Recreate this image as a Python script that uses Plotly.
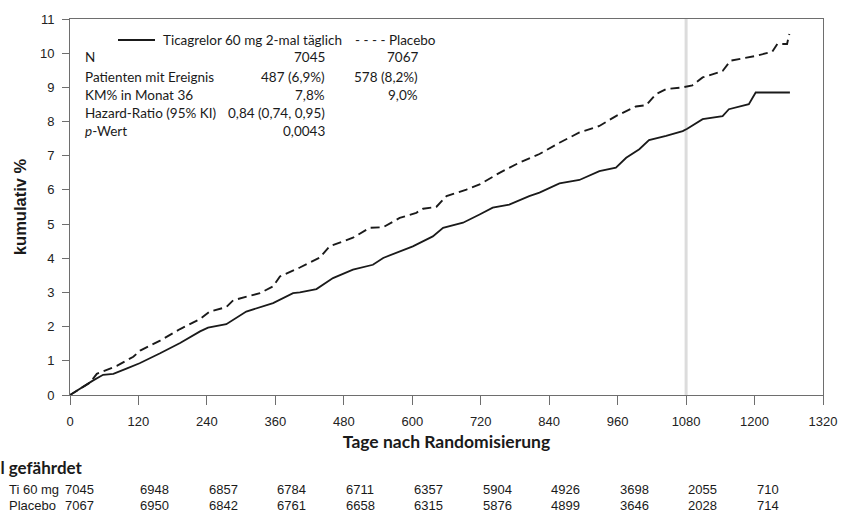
import plotly.graph_objects as go

# ---- data ----
days_ti = [0, 20, 40, 58, 76, 100, 122, 158, 193, 228, 242, 274, 309, 356, 391, 403, 432, 461, 496,
           531, 549, 601, 636, 654, 689, 718, 741, 770, 805, 823, 852, 858, 893, 928, 957, 975, 998,
           1015, 1045, 1074, 1082, 1109, 1144, 1155, 1190, 1202, 1262]
cum_ti = [0, 0.22, 0.42, 0.59, 0.62, 0.78, 0.93, 1.22, 1.52, 1.86, 1.97, 2.07, 2.44, 2.69, 2.98, 3.0,
          3.10, 3.42, 3.67, 3.81, 4.01, 4.35, 4.64, 4.89, 5.04, 5.28, 5.48, 5.57, 5.82, 5.92, 6.13,
          6.19, 6.29, 6.55, 6.65, 6.94, 7.19, 7.46, 7.58, 7.72, 7.79, 8.07, 8.16, 8.36, 8.51, 8.85, 8.85]

days_pl = [0, 20, 35, 47, 82, 111, 123, 158, 193, 228, 245, 274, 286, 333, 356, 368, 403, 438, 455,
           496, 525, 549, 578, 607, 619, 642, 660, 695, 718, 753, 788, 823, 852, 858, 893, 928, 957,
           992, 1010, 1027, 1045, 1074, 1091, 1109, 1144, 1158, 1202, 1231, 1240, 1257, 1261]
cum_pl = [0, 0.22, 0.36, 0.62, 0.85, 1.12, 1.30, 1.59, 1.93, 2.22, 2.44, 2.57, 2.77, 2.98, 3.18,
          3.47, 3.73, 4.02, 4.35, 4.60, 4.89, 4.91, 5.18, 5.33, 5.45, 5.50, 5.82, 6.01, 6.16, 6.50,
          6.80, 7.05, 7.33, 7.38, 7.68, 7.87, 8.16, 8.44, 8.48, 8.80, 8.95, 9.00, 9.06, 9.29, 9.48,
          9.78, 9.92, 10.04, 10.27, 10.27, 10.56]

x_ticks = [0, 120, 240, 360, 480, 600, 720, 840, 960, 1080, 1200, 1320]
y_ticks = list(range(0, 12))
risk_days = [0, 120, 240, 360, 480, 600, 720, 840, 960, 1080, 1200]
risk_ti = [7045, 6948, 6857, 6784, 6711, 6357, 5904, 4926, 3698, 2055, 710]
risk_pl = [7067, 6950, 6842, 6761, 6658, 6315, 5876, 4899, 3646, 2028, 714]

name_ti = "Ticagrelor 60 mg 2-mal täglich"
name_pl = "Placebo"
table_labels = ["N", "Patienten mit Ereignis", "KM% in Monat 36", "Hazard-Ratio (95% KI)", "<i>p</i>-Wert"]
table_ti = ["7045", "487 (6,9%)", "7,8%", "0,84 (0,74, 0,95)", "0,0043"]
table_pl = ["7067", "578 (8,2%)", "9,0%", "", ""]

# ---- layout geometry ----
W, H = 842, 513
L, R, T, B = 70, 19, 19, 118
PW, PH = W - L - R, H - T - B

def pxx(x):
    return (x - L) / PW

def pxy(y):
    return (H - B - y) / PH

TXT = "Lato, 'Open Sans', sans-serif"
ARIAL = "'Liberation Sans', Arial, sans-serif"

fig = go.Figure()
fig.add_trace(go.Scatter(x=days_ti, y=cum_ti, mode="lines", name=name_ti,
                         line=dict(color="#1a1a1a", width=1.8), showlegend=False))
fig.add_trace(go.Scatter(x=days_pl, y=cum_pl, mode="lines", name=name_pl,
                         line=dict(color="#1a1a1a", width=1.9, dash="9px,5px"), showlegend=False))

# vertical reference at 1080 days
fig.add_shape(type="line", x0=1080, x1=1080, y0=0, y1=1, xref="x", yref="paper",
              line=dict(color="#dcdcdc", width=3), layer="below")

ann = []
# legend header
fig.add_shape(type="line", xref="paper", yref="paper", x0=pxx(118), x1=pxx(155),
              y0=pxy(40), y1=pxy(40), line=dict(color="#1a1a1a", width=1.8))
ann.append(dict(x=pxx(161), y=pxy(40), text=name_ti, xanchor="left"))
ann.append(dict(x=pxx(353), y=pxy(40), text="- - - - " + name_pl, xanchor="left"))
row_y = [57.5, 76.5, 94.5, 112.5, 131]
for lab, a, b, yy in zip(table_labels, table_ti, table_pl, row_y):
    ann.append(dict(x=pxx(83), y=pxy(yy), text=lab, xanchor="left"))
    ann.append(dict(x=pxx(327), y=pxy(yy), text=a, xanchor="right"))
    if b:
        ann.append(dict(x=pxx(420), y=pxy(yy), text=b, xanchor="right"))
for a in ann:
    a.update(xref="paper", yref="paper", yanchor="middle", showarrow=False,
             font=dict(family=TXT, size=13.5, color="#1a1a1a"))
    fig.add_annotation(**a)

# risk table
fig.add_annotation(x=pxx(85), y=pxy(467), xref="paper", yref="paper", text="<b>Anzahl gefährdet</b>",
                   xanchor="right", yanchor="middle", showarrow=False,
                   font=dict(family=TXT, size=17, color="#1a1a1a"))
fig.add_annotation(x=pxx(7), y=pxy(489.5), xref="paper", yref="paper", text="Ti 60 mg",
                   xanchor="left", yanchor="middle", showarrow=False,
                   font=dict(family=ARIAL, size=13, color="#1a1a1a"))
fig.add_annotation(x=pxx(7), y=pxy(505.5), xref="paper", yref="paper", text="Placebo",
                   xanchor="left", yanchor="middle", showarrow=False,
                   font=dict(family=ARIAL, size=13, color="#1a1a1a"))
for i, (d, a, b) in enumerate(zip(risk_days, risk_ti, risk_pl)):
    off = -7 if i == 0 else 0
    for v, yy in ((a, 489.5), (b, 505.5)):
        fig.add_annotation(x=d, y=pxy(yy), xref="x", yref="paper", text=str(v),
                           xanchor="left", yanchor="middle", showarrow=False, xshift=off,
                           font=dict(family=ARIAL, size=13, color="#1a1a1a"))

axis_common = dict(showgrid=False, zeroline=False, showline=True, linecolor="#6e6e6e",
                   linewidth=1, mirror=True, ticks="outside", tickcolor="#6e6e6e",
                   automargin=False, ticklabelstandoff=5,
                   tickfont=dict(family=ARIAL, size=13, color="#222222"))
fig.update_xaxes(range=[0, 1320], tickvals=x_ticks, ticktext=[str(t) for t in x_ticks], ticklen=9,
                 title=dict(text="<b>Tage nach Randomisierung</b>", standoff=8,
                            font=dict(family=TXT, size=17.5, color="#1a1a1a")), **axis_common)
fig.update_yaxes(range=[0, 11], tickvals=y_ticks, ticktext=[str(t) for t in y_ticks], ticklen=7,
                 title=dict(text="<b>kumulativ %</b>", standoff=9,
                            font=dict(family=ARIAL, size=16.5, color="#1a1a1a")), **axis_common)

fig.update_layout(width=W, height=H, margin=dict(l=L, r=R, t=T, b=B, autoexpand=False),
                  paper_bgcolor="white", plot_bgcolor="white")
fig.write_html("out.html", config={"displayModeBar": False},
               post_script="document.body.style.margin='0';document.body.style.overflow='hidden';")
